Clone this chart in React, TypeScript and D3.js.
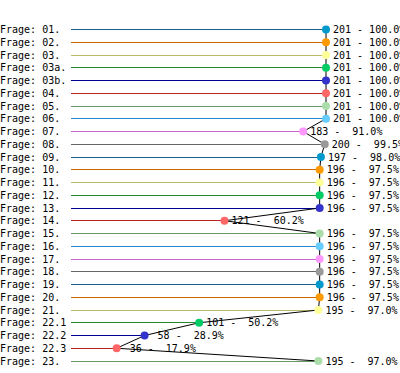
import React from "react";
import * as d3 from "d3";

const categories = ["01.", "02.", "03.", "03a.", "03b.", "04.", "05.", "06.", "07.", "08.", "09.", "10.", "11.", "12.", "13.", "14.", "15.", "16.", "17.", "18.", "19.", "20.", "21.", "22.1", "22.2", "22.3", "23."];
const counts = [201, 201, 201, 201, 201, 201, 201, 201, 183, 200, 197, 196, 196, 196, 196, 121, 196, 196, 196, 196, 196, 196, 195, 101, 58, 36, 195];
const percents = [100.0, 100.0, 100.0, 100.0, 100.0, 100.0, 100.0, 100.0, 91.0, 99.5, 98.0, 97.5, 97.5, 97.5, 97.5, 60.2, 97.5, 97.5, 97.5, 97.5, 97.5, 97.5, 97.0, 50.2, 28.9, 17.9, 97.0];
const total = 201;

const dotColors = ["#0099cc", "#ff9900", "#ffff99", "#00cc66", "#3333cc", "#ff6666", "#aaddaa", "#66ccff", "#ff99ff", "#999999"];
const lineColors = ["#1a5f8a", "#cc6600", "#bbbb66", "#228833", "#000099", "#bb2222", "#669966", "#2288cc", "#cc66cc", "#666666"];

export default function App() {
  const W = 400, H = 373;
  const x = d3.scaleLinear().domain([0, total]).range([71, 326]);
  const y = d3.scalePoint<string>().domain(categories).range([29.5, 361]);
  const font = "'DejaVu Sans Mono', monospace";
  const pts: [number, number][] = categories.map((c, i) => [x(counts[i]), y(c)!]);
  const path = d3.line()(pts) || "";
  const fmt = (i: number) =>
    String(counts[i]).padStart(3, " ") + " - " + (percents[i].toFixed(1) + "%").padStart(6, " ");
  return (
    <svg width={W} height={H} style={{ position: "absolute", left: 0, top: 0, background: "#fff" }}>
      {categories.map((c, i) => (
        <text key={"l" + c} x={0} y={y(c)!} dy="0.35em" fontFamily={font} fontSize={10} fill="#000" style={{ whiteSpace: "pre" }}>
          {"Frage: " + c}
        </text>
      ))}
      {categories.map((c, i) => (
        <line key={"h" + c} x1={71} x2={x(counts[i])} y1={y(c)!} y2={y(c)!} stroke={lineColors[i % 10]} strokeWidth={1} shapeRendering="crispEdges" />
      ))}
      <path d={path} fill="none" stroke="#000" strokeWidth={1} />
      {categories.map((c, i) => (
        <circle key={"d" + c} cx={x(counts[i])} cy={y(c)!} r={4} fill={dotColors[i % 10]} />
      ))}
      {categories.map((c, i) => (
        <text key={"v" + c} x={x(counts[i]) + 7} y={y(c)!} dy="0.35em" fontFamily={font} fontSize={10} fill="#000" style={{ whiteSpace: "pre" }}>
          {fmt(i)}
        </text>
      ))}
    </svg>
  );
}
